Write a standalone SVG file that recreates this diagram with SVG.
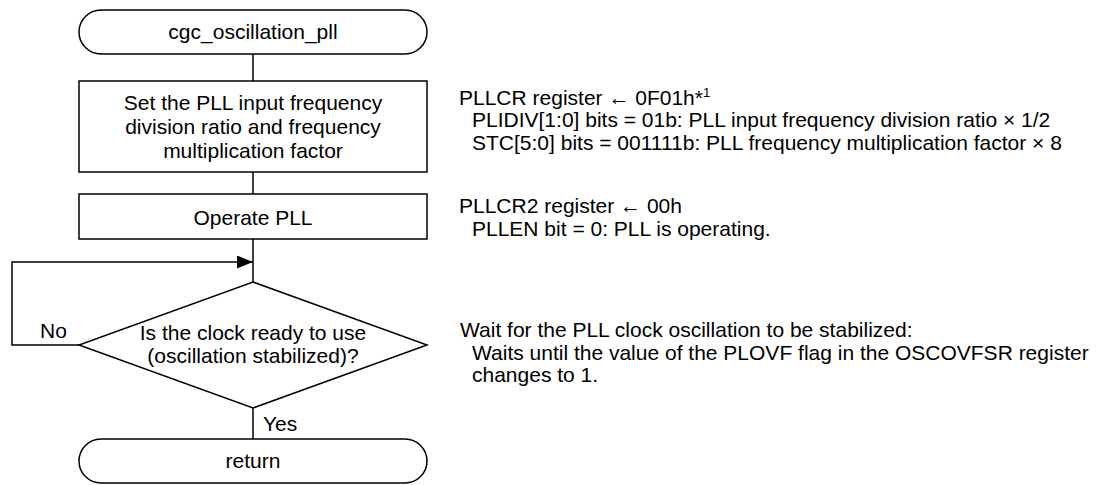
<svg xmlns="http://www.w3.org/2000/svg" width="1104" height="485" viewBox="0 0 1104 485">
  <style>
    .shape { fill: #ffffff; stroke: #000000; stroke-width: 1.5; }
    .line { fill: none; stroke: #000000; stroke-width: 1.5; }
    text { font-family: "Liberation Sans", Arial, sans-serif; font-size: 21px; fill: #000000; }
    .c { text-anchor: middle; }
    .sup { font-size: 13px; }
  </style>
  <defs>
    <marker id="arrow" viewBox="0 0 16 13" refX="16" refY="6.5" markerWidth="16" markerHeight="13" markerUnits="userSpaceOnUse" orient="auto">
      <path d="M0,0 L16,6.5 L0,13 Z" fill="#000000"/>
    </marker>
  </defs>
  <rect width="1104" height="485" fill="#ffffff"/>

  <!-- connectors -->
  <g id="connectors">
    <line class="line" x1="253" y1="54" x2="253" y2="81"/>
    <line class="line" x1="253" y1="172" x2="253" y2="194"/>
    <line class="line" x1="253" y1="239" x2="253" y2="282"/>
    <line class="line" x1="253" y1="408" x2="253" y2="439"/>
    <polyline class="line" points="79,345 12,345 12,262 253,262" marker-end="url(#arrow)"/>
    <text x="40" y="338">No</text>
    <text x="263" y="431">Yes</text>
  </g>

  <!-- start terminal -->
  <g id="start">
    <rect class="shape" x="79" y="10" width="348" height="44" rx="22" ry="22"/>
    <text class="c" x="253" y="39">cgc_oscillation_pll</text>
  </g>

  <!-- PLL division / multiplication setting -->
  <g id="set-pll">
    <rect class="shape" x="79" y="81" width="348" height="91"/>
    <text class="c" x="253" y="110">Set the PLL input frequency</text>
    <text class="c" x="253" y="134">division ratio and frequency</text>
    <text class="c" x="253" y="158">multiplication factor</text>
  </g>

  <!-- PLL enable -->
  <g id="operate-pll">
    <rect class="shape" x="79" y="194" width="348" height="45"/>
    <text class="c" x="253" y="225">Operate PLL</text>
  </g>

  <!-- stabilization check -->
  <g id="check-ready">
    <polygon class="shape" points="253,282 427,345 253,408 79,345"/>
    <text class="c" x="253" y="340">Is the clock ready to use</text>
    <text class="c" x="253" y="363">(oscillation stabilized)?</text>
  </g>

  <!-- end terminal -->
  <g id="return">
    <rect class="shape" x="79" y="439" width="348" height="44" rx="22" ry="22"/>
    <text class="c" x="253" y="468">return</text>
  </g>

  <!-- register notes -->
  <g id="note-pllcr">
    <text x="459" y="105">PLLCR register ← 0F01h*<tspan class="sup" dy="-8">1</tspan></text>
    <text x="472" y="127">PLIDIV[1:0] bits = 01b: PLL input frequency division ratio × 1/2</text>
    <text x="472" y="150">STC[5:0] bits = 001111b: PLL frequency multiplication factor × 8</text>
  </g>
  <g id="note-pllcr2">
    <text x="459" y="213">PLLCR2 register ← 00h</text>
    <text x="472" y="236">PLLEN bit = 0: PLL is operating.</text>
  </g>
  <g id="note-wait">
    <text x="460" y="337">Wait for the PLL clock oscillation to be stabilized:</text>
    <text x="472" y="360">Waits until the value of the PLOVF flag in the OSCOVFSR register</text>
    <text x="472" y="382">changes to 1.</text>
  </g>
</svg>
